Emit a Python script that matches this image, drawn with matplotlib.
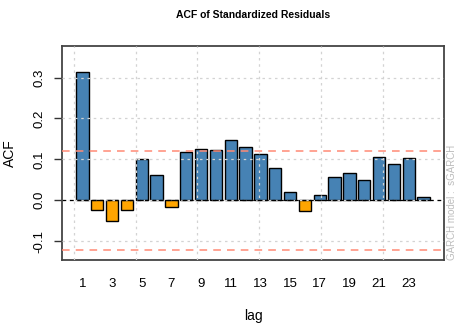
import numpy as np
import matplotlib.pyplot as plt

plt.rcParams['font.family'] = ['Liberation Sans', 'DejaVu Sans']

# ACF values of standardized residuals, lags 1..24
lags = list(range(1, 25))
acf = [0.314, -0.024, -0.051, -0.023, 0.100, 0.061, -0.017, 0.117,
       0.125, 0.124, 0.147, 0.129, 0.114, 0.080, 0.021, -0.026,
       0.013, 0.058, 0.066, 0.050, 0.106, 0.089, 0.103, 0.009]
conf_band = 0.121
yticks = [-0.1, 0.0, 0.1, 0.2, 0.3]
xtick_lags = list(range(1, 24, 2))

# R barplot geometry: width 1, space 0.2
x = 0.7 + 1.2 * (np.array(lags) - 1)
colors = ['steelblue' if v > 0 else 'orange' for v in acf]

W, H = 465, 326
fig = plt.figure(figsize=(W / 100, H / 100), dpi=100)
ax = fig.add_axes([62 / W, 1 - 260 / H, (444 - 62) / W, (260 - 46) / H])

ax.bar(x, acf, width=1.0, color=colors, edgecolor='black', linewidth=1.0, zorder=2)

# grid on top of the bars, like R's grid()
for gx in range(0, 31, 5):
    ax.axvline(gx, color='#d3d3d3', linestyle=(0, (2, 3)), linewidth=0.9, zorder=3)
for gy in yticks:
    ax.axhline(gy, color='#d3d3d3', linestyle=(0, (2, 3)), linewidth=0.9, zorder=3)

ax.axhline(conf_band, color='#ff8a75', linestyle=(0, (5, 4)), linewidth=1.1, zorder=4)
ax.axhline(-conf_band, color='#ff8a75', linestyle=(0, (5, 4)), linewidth=1.1, zorder=4)
ax.axhline(0, color='black', linestyle=(0, (3, 3)), linewidth=0.9, zorder=4)

ax.set_xlim(-0.944, 29.944)
ax.set_ylim(-0.146, 0.377)

ax.set_yticks(yticks)
ax.set_yticklabels(['-0.1', '0.0', '0.1', '0.2', '0.3'], rotation=90, va='center', fontsize=9.5)
ax.tick_params(axis='y', length=6, width=1.0, color='#333333', pad=6)

ax.set_xticks(0.7 + 1.2 * (np.array(xtick_lags) - 1))
ax.set_xticklabels([str(l) for l in xtick_lags], fontsize=9.5)
ax.tick_params(axis='x', length=0, pad=13)

for s in ax.spines.values():
    s.set_color('#444444')
    s.set_linewidth(1.3)

fig.text(253 / W, 1 - 316 / H, 'lag', ha='center', va='center', fontsize=10)
fig.text(10 / W, 1 - 153 / H, 'ACF', ha='center', va='center', rotation=90, fontsize=10)
fig.text(253 / W, 1 - 15 / H, 'ACF of Standardized Residuals', ha='center', va='center',
         fontsize=7.5, fontweight='bold')
fig.text(452 / W, 1 - 260 / H, 'GARCH model :  sGARCH', rotation=90,
         ha='center', va='bottom', fontsize=7, color='#bdbdbd')

fig.savefig('out.png', dpi=100)
